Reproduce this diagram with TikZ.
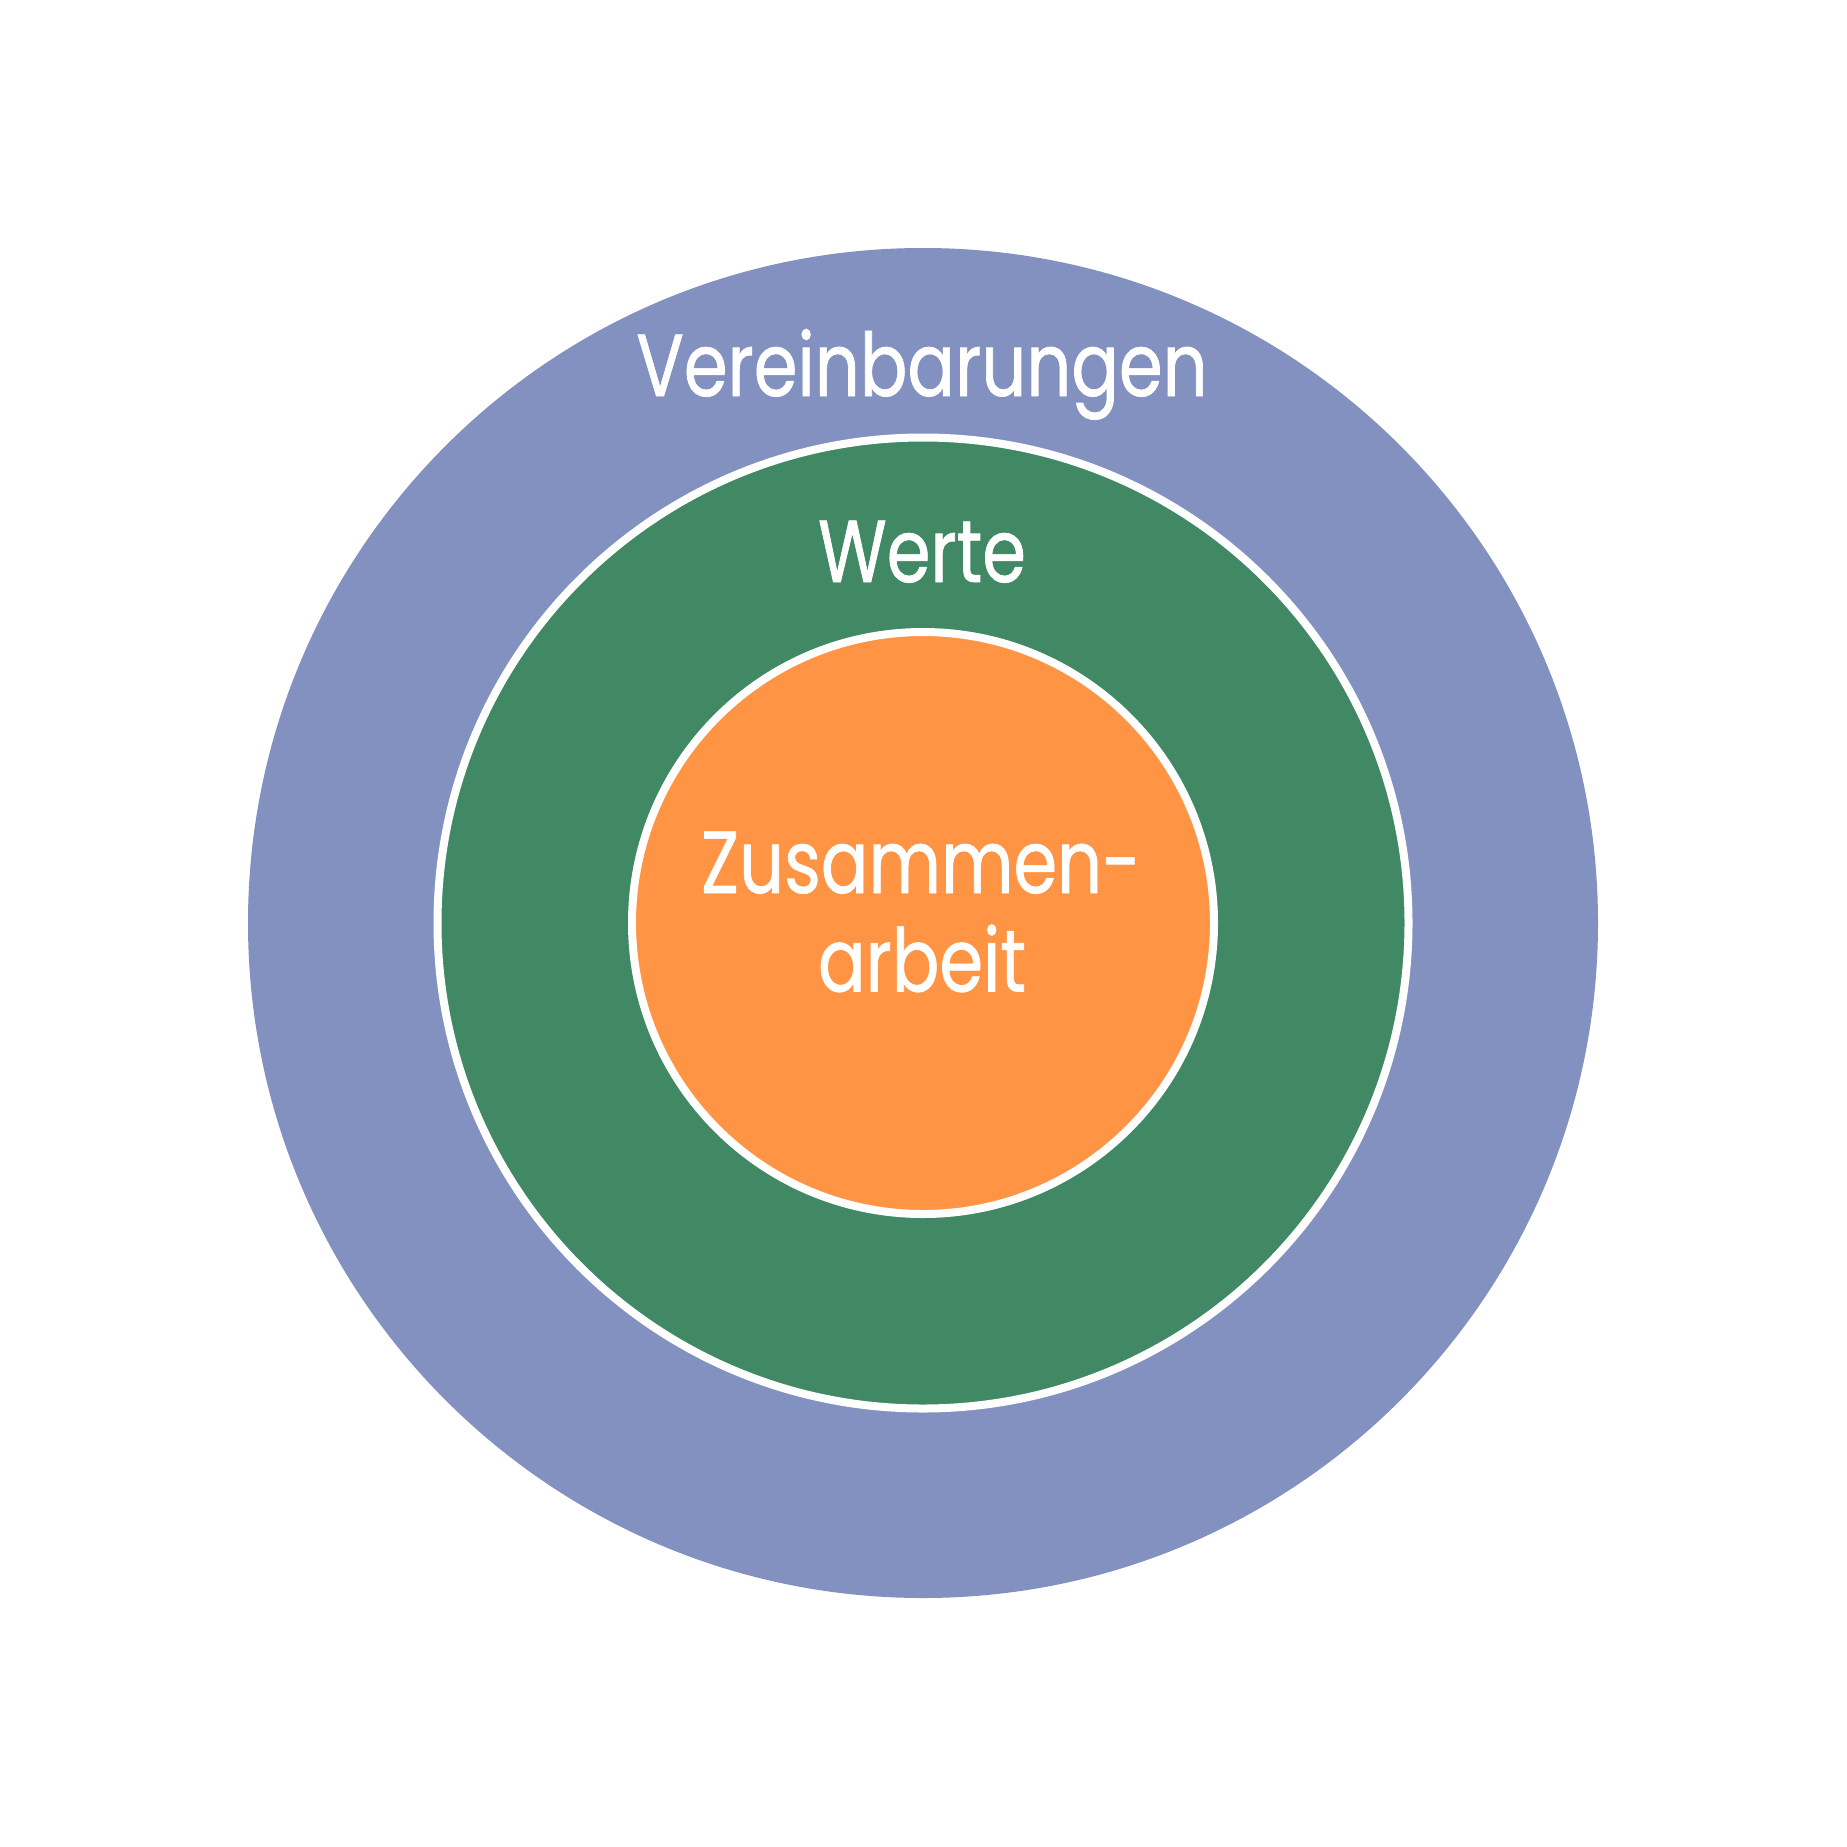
\documentclass[tikz,border=0pt]{standalone}
\usepackage{fontspec}
\setmainfont{Poppins}[FakeStretch=0.8,FakeBold=0.8]
\definecolor{outerblue}{RGB}{130,145,192}
\definecolor{midgreen}{RGB}{65,136,101}
\definecolor{innerorange}{RGB}{255,148,68}
\begin{document}
\begin{tikzpicture}[x=1pt,y=-1pt]
\tikzset{
  ring/.style={draw=white, line width=8pt},
  lbl/.style={text=white, font=\fontsize{88}{99}\selectfont, anchor=base, inner sep=0pt}
}
\useasboundingbox (0,0) rectangle (1847,1847);
\fill[white] (0,0) rectangle (1847,1847);
\coordinate (c) at (923,923);
\fill[outerblue] (c) circle[radius=675pt];
\filldraw[ring, fill=midgreen] (c) circle[radius=485.5pt];
\filldraw[ring, fill=innerorange] (c) circle[radius=291pt];
\node[lbl] (verein) at (922,396) {Vereinbarungen};
\node[lbl] (werte) at (922,582) {Werte};
\node[lbl] (zus) at (921,893) {Zusammen-};
\node[lbl] (arb) at (922,991.5) {arbeit};
\end{tikzpicture}
\end{document}
